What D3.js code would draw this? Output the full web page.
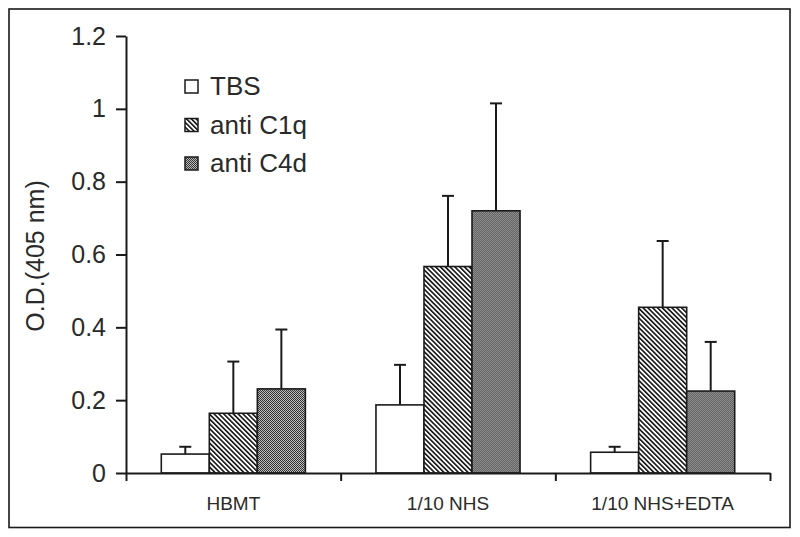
<!DOCTYPE html>
<html><head><meta charset="utf-8">
<script src="https://cdn.jsdelivr.net/npm/d3@7/dist/d3.min.js"></script>
<style>html,body{margin:0;padding:0;background:#fff;} svg{display:block;}</style>
</head><body>
<script>
const categories = ["HBMT", "1/10 NHS", "1/10 NHS+EDTA"];
const seriesNames = ["TBS", "anti C1q", "anti C4d"];
const tbsValues  = [0.052, 0.187, 0.057];
const tbsErrors  = [0.020, 0.110, 0.015];
const c1qValues  = [0.164, 0.567, 0.455];
const c1qErrors  = [0.142, 0.194, 0.182];
const c4dValues  = [0.231, 0.720, 0.225];
const c4dErrors  = [0.163, 0.295, 0.135];
const yTicks = [0, 0.2, 0.4, 0.6, 0.8, 1, 1.2];
const yTickLabels = ["0", "0.2", "0.4", "0.6", "0.8", "1", "1.2"];
const yTitle = "O.D.(405 nm)";

const values = [tbsValues, c1qValues, c4dValues];
const errors = [tbsErrors, c1qErrors, c4dErrors];

const W = 800, H = 537;
const plotLeft = 126, plotRight = 770, plotTop = 36, plotBottom = 473;
const ink = "#1a1a1a";
const textInk = "#2a2a2a";
const font = "'Liberation Sans', Arial, sans-serif";

const svg = d3.select("body").append("svg").attr("width", W).attr("height", H);
const defs = svg.append("defs");

// stripe pattern (\\\)
const stripe = defs.append("pattern").attr("id", "stripes")
  .attr("patternUnits", "userSpaceOnUse").attr("width", 3.4).attr("height", 10)
  .attr("patternTransform", "rotate(-45)");
stripe.append("rect").attr("width", 3.4).attr("height", 10).attr("fill", "#fff");
stripe.append("line").attr("x1", 0.8).attr("x2", 0.8).attr("y1", 0).attr("y2", 10)
  .attr("stroke", "#111").attr("stroke-width", 1.6);

// checker pattern
const chk = defs.append("pattern").attr("id", "checker")
  .attr("patternUnits", "userSpaceOnUse").attr("width", 2).attr("height", 2);
chk.append("rect").attr("width", 2).attr("height", 2).attr("fill", "#bdbdbd");
chk.append("rect").attr("x", 0).attr("y", 0).attr("width", 1).attr("height", 1).attr("fill", "#333");
chk.append("rect").attr("x", 1).attr("y", 1).attr("width", 1).attr("height", 1).attr("fill", "#333");

const fills = ["#fff", "url(#stripes)", "url(#checker)"];

// frame
svg.append("rect").attr("x", 9).attr("y", 9).attr("width", 781).attr("height", 518.5)
  .attr("fill", "none").attr("stroke", ink).attr("stroke-width", 1.6);

const y = d3.scaleLinear().domain([0, 1.2]).range([plotBottom, plotTop]);
const x0 = d3.scaleBand().domain(categories).range([plotLeft, plotRight]).padding(0);
const x1 = d3.scaleBand().domain(seriesNames).range([0, x0.bandwidth()])
  .paddingInner(0).paddingOuter(0.735);
const xb = d3.scaleLinear().domain([0, categories.length]).range([plotLeft, plotRight]);

// bars
categories.forEach((c, ci) => {
  const g = svg.append("g").attr("transform", `translate(${x0(c)},0)`);
  seriesNames.forEach((s, si) => {
    const v = values[si][ci], e = errors[si][ci];
    const bx = x1(s), bw = x1.bandwidth();
    const cx = bx + bw / 2;
    g.append("line").attr("x1", cx).attr("x2", cx).attr("y1", y(v)).attr("y2", y(v + e))
      .attr("stroke", ink).attr("stroke-width", 2);
    g.append("line").attr("x1", cx - 6).attr("x2", cx + 6).attr("y1", y(v + e)).attr("y2", y(v + e))
      .attr("stroke", ink).attr("stroke-width", 2);
    g.append("rect").attr("x", bx).attr("y", y(v)).attr("width", bw).attr("height", y(0) - y(v))
      .attr("fill", fills[si]).attr("stroke", ink).attr("stroke-width", 1.6);
  });
});

// y axis
const yAxis = svg.append("g").attr("transform", `translate(${plotLeft},0)`)
  .call(d3.axisLeft(y).tickValues(yTicks).tickFormat((d, i) => yTickLabels[i]).tickSize(10).tickPadding(10).tickSizeOuter(0));
yAxis.select(".domain").attr("stroke", ink).attr("stroke-width", 2);
yAxis.selectAll(".tick line").attr("stroke", ink).attr("stroke-width", 2);
yAxis.selectAll(".tick text").attr("font-family", font).attr("font-size", 25).attr("fill", textInk);

// x axis
const xAxis = svg.append("g").attr("transform", `translate(0,${plotBottom})`)
  .call(d3.axisBottom(xb).tickValues(d3.range(categories.length + 1)).tickFormat("").tickSize(8).tickSizeOuter(0));
xAxis.select(".domain").attr("stroke", ink).attr("stroke-width", 2);
xAxis.selectAll(".tick line").attr("stroke", ink).attr("stroke-width", 2);

svg.append("g").selectAll("text").data(categories).join("text")
  .attr("x", d => x0(d) + x0.bandwidth() / 2).attr("y", 510)
  .attr("text-anchor", "middle").attr("font-family", font).attr("font-size", 19).attr("fill", textInk)
  .text(d => d);

// y title
svg.append("text").attr("transform", `translate(44,256) rotate(-90)`)
  .attr("text-anchor", "middle").attr("font-family", font).attr("font-size", 25).attr("fill", textInk)
  .text(yTitle);

// legend
const lg = svg.append("g").attr("transform", "translate(185,80)");
seriesNames.forEach((s, i) => {
  const r = lg.append("g").attr("transform", `translate(0,${i * 38.5})`);
  r.append("rect").attr("x", 0).attr("y", 0).attr("width", 13).attr("height", 13)
    .attr("fill", fills[i]).attr("stroke", ink).attr("stroke-width", 1.5);
  r.append("text").attr("x", 25).attr("y", 15).attr("font-family", font).attr("font-size", 26)
    .attr("fill", textInk).text(s);
});
</script>
</body></html>
